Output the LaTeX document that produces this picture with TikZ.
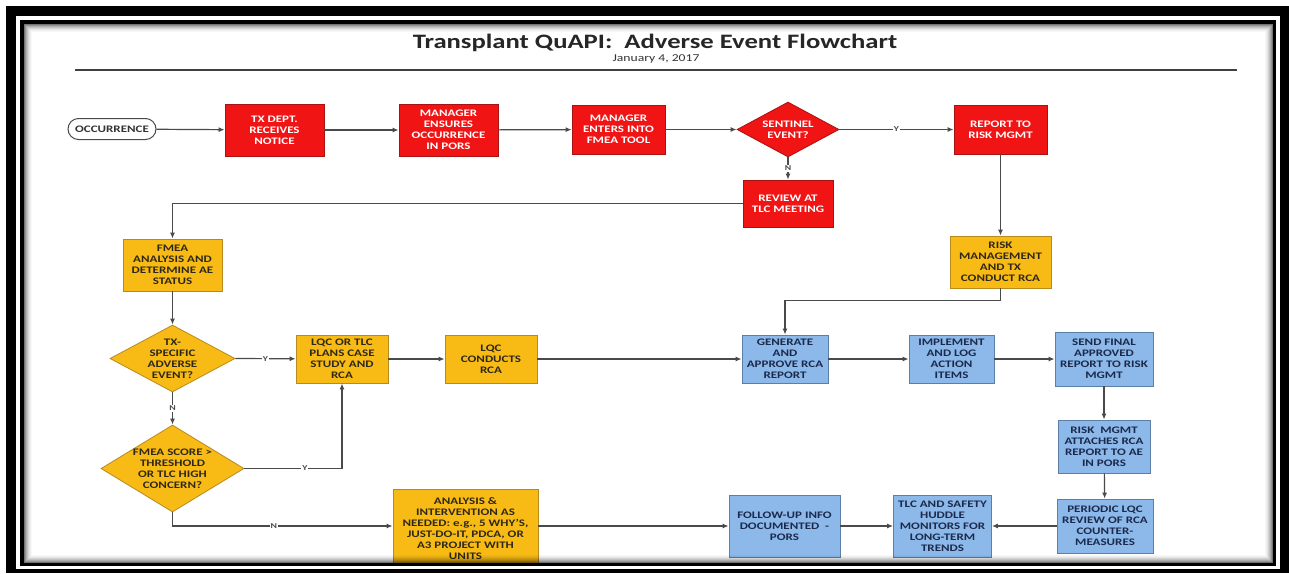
\documentclass[tikz,border=0pt]{standalone}
\usepackage{fontspec}
\setmainfont{Carlito}[FakeStretch=1.3]
\usetikzlibrary{shapes.geometric,shapes.misc,arrows.meta,calc}

\definecolor{redfill}{HTML}{F01414}
\definecolor{redline}{HTML}{A81212}
\definecolor{ylwfill}{HTML}{F8BB16}
\definecolor{ylwline}{HTML}{B88A1E}
\definecolor{ylwtext}{HTML}{2E2818}
\definecolor{bluefill}{HTML}{8CB8EA}
\definecolor{blueline}{HTML}{5D7EA6}
\definecolor{bluetext}{HTML}{1B2A4A}
\definecolor{linegray}{HTML}{4A4A4A}

\newcommand\bxfont{\bfseries\fontsize{10}{11}\selectfont}
\newcommand\ynfont{\bfseries\fontsize{7.5}{8}\selectfont}

\tikzset{
  box/.style={rectangle, draw, line width=0.8pt, align=center, inner sep=1pt, font=\bxfont},
  redbox/.style={box, fill=redfill, draw=redline, text=white},
  ylwbox/.style={box, fill=ylwfill, draw=ylwline, text=ylwtext},
  bluebox/.style={box, fill=bluefill, draw=blueline, text=bluetext},
  dia/.style={diamond, line width=0.8pt, inner sep=0pt},
  diatext/.style={align=center, font=\bxfont, inner sep=0pt},
  flow/.style={draw=linegray, line width=1.2pt, -{Latex[length=6pt,width=5pt]}},
  yn/.style={fill=white, inner sep=1pt, font=\ynfont, text=linegray},
}

\begin{document}
\begin{tikzpicture}[x=1pt,y=-1pt]
\useasboundingbox (0,0) rectangle (1289,573);

% outer frame
\fill[black] (6,6) rectangle (1289,573);
\fill[white] (16,16) rectangle (1280,569);
\draw[black, line width=3.5pt] (22,22) rectangle (1274.5,564.5);

\begin{scope}
\clip (24,24) rectangle (1272.75,562.75);

% heading
\node[font=\bfseries\fontsize{20.5}{22}\selectfont, text=black!85] (title) at (655,43) {Transplant QuAPI:\ \ Adverse Event Flowchart};
\node[font=\fontsize{10.5}{12}\selectfont, text=black!80] (date) at (656,59) {January 4, 2017};
\draw[black!75, line width=1.3pt] (75,70) -- (1237,70);

% top row
\node[rounded rectangle, draw=linegray, line width=1pt, fill=white, text=black!80, font=\bxfont,
      minimum width=90pt, minimum height=21pt, inner sep=1pt] (occ) at (112,129) {OCCURRENCE};
\node[redbox, minimum width=99pt, minimum height=52pt] (tx) at (274.5,130) {TX DEPT.\\RECEIVES\\NOTICE};
\node[redbox, minimum width=99pt, minimum height=52pt] (ens) at (448.5,130) {MANAGER\\ENSURES\\OCCURRENCE\\IN PORS};
\node[redbox, minimum width=93pt, minimum height=49pt] (ent) at (618.5,129.5) {MANAGER\\ENTERS INTO\\FMEA TOOL};
\node[dia, fill=redfill, draw=redline, minimum width=102pt, minimum height=55pt] (sent) at (788,129.5) {};
\node[diatext, text=white] (sentt) at (sent.center) {SENTINEL\\EVENT?};
\node[redbox, minimum width=93pt, minimum height=49pt] (rep) at (1000.5,129.5) {REPORT TO\\RISK MGMT};
\node[redbox, minimum width=90pt, minimum height=47pt] (rev) at (788,203.5) {REVIEW AT\\TLC MEETING};

% left column
\node[ylwbox, minimum width=99pt, minimum height=52pt] (fmea) at (172.5,265) {FMEA\\ANALYSIS AND\\DETERMINE AE\\STATUS};
\node[dia, fill=ylwfill, draw=ylwline, minimum width=125pt, minimum height=67pt] (spec) at (172.5,358.5) {};
\node[diatext, text=ylwtext] (spect) at (spec.center) {TX-\\SPECIFIC\\ADVERSE\\EVENT?};
\node[dia, fill=ylwfill, draw=ylwline, minimum width=143pt, minimum height=87pt] (score) at (172.5,468.5) {};
\node[diatext, text=ylwtext] (scoret) at (score.center) {FMEA SCORE >\\THRESHOLD\\OR TLC HIGH\\CONCERN?};

% middle row
\node[ylwbox, minimum width=92pt, minimum height=48pt] (plan) at (342,359) {LQC OR TLC\\PLANS CASE\\STUDY AND\\RCA};
\node[ylwbox, minimum width=92pt, minimum height=48pt] (cond) at (491,359) {LQC\\CONDUCTS\\RCA};
\node[ylwbox, minimum width=101pt, minimum height=52pt] (rmtx) at (1000.5,262) {RISK\\MANAGEMENT\\AND TX\\CONDUCT RCA};
\node[bluebox, minimum width=86pt, minimum height=48pt] (gen) at (785,359) {GENERATE\\AND\\APPROVE RCA\\REPORT};
\node[bluebox, minimum width=85pt, minimum height=48pt] (impl) at (951.5,359) {IMPLEMENT\\AND LOG\\ACTION\\ITEMS};
\node[bluebox, minimum width=98pt, minimum height=54pt] (send) at (1104,359) {SEND FINAL\\APPROVED\\REPORT TO RISK\\MGMT};
\node[bluebox, minimum width=92pt, minimum height=53pt] (att) at (1104,446.5) {RISK\ \ MGMT\\ATTACHES RCA\\REPORT TO AE\\IN PORS};

% bottom row
\node[ylwbox, minimum width=145pt, minimum height=78pt, anchor=north] (anl) at (465.5,489) {ANALYSIS \&\\INTERVENTION AS\\NEEDED: e.g., 5 WHY'S,\\JUST-DO-IT, PDCA, OR\\A3 PROJECT WITH\\UNITS};
\node[bluebox, minimum width=111pt, minimum height=62pt] (fol) at (784.5,526) {FOLLOW-UP INFO\\DOCUMENTED\ \ -\\PORS};
\node[bluebox, minimum width=98pt, minimum height=62pt] (tlc) at (942.5,526) {TLC AND SAFETY\\HUDDLE\\MONITORS FOR\\LONG-TERM\\TRENDS};
\node[bluebox, minimum width=96pt, minimum height=54pt] (per) at (1105,526) {PERIODIC LQC\\REVIEW OF RCA\\COUNTER-\\MEASURES};

% connectors
\draw[flow] (occ) -- (tx);
\draw[flow] (tx) -- (ens);
\draw[flow] (ens) -- (ent);
\draw[flow] (ent) -- (sent.west);
\draw[flow] (sent.east) -- (rep) node[yn, pos=0.5] {Y};
\draw[flow] (sent.south) -- (rev) node[yn, pos=0.5] {N};
\draw[flow] (rev.west) -| (fmea.north);
\draw[flow] (fmea) -- (spec.north);
\draw[flow] (spec.east) -- (plan) node[yn, pos=0.5] {Y};
\draw[flow] (spec.south) -- (score.north) node[yn, pos=0.5] {N};
\draw[flow] (plan) -- (cond);
\draw[flow] (cond) -- (gen);
\draw[flow] (rep) -- (rmtx);
\draw[flow] (rmtx.south) -- ++(0,12) -| (gen.north);
\draw[flow] (gen) -- (impl);
\draw[flow] (impl) -- (send);
\draw[flow] (send) -- (att);
\draw[flow] (att) -- (per);
\draw[flow] (per) -- (tlc);
\draw[flow] (fol) -- (tlc);
\draw[flow] (score.east) -| (plan.south) node[yn, pos=0.31] {Y};
\draw[flow] (score.south) |- (anl.west |- fol.west) node[yn, pos=0.73] {N};
\draw[flow] (anl.east |- fol.west) -- (fol.west);

% inner shadow along the frame
\foreach \i/\o in {0/0.55,1/0.42,2/0.32,3/0.24,4/0.17,5/0.11,6/0.06,7/0.03}
  \draw[black, opacity=\o, line width=1pt] (24.5+\i,24.5+\i) rectangle (1272.25-\i,562.25-\i);
\end{scope}
\end{tikzpicture}
\end{document}
